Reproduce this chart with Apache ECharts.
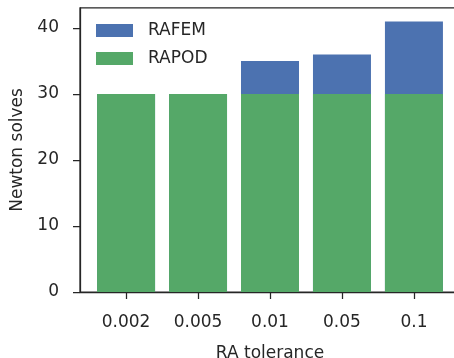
<!DOCTYPE html>
<html><head><meta charset="utf-8">
<script src="https://cdn.jsdelivr.net/npm/echarts@6/dist/echarts.min.js"></script>
<style>html,body{margin:0;padding:0;background:#fff}#c{width:454px;height:358px}</style>
</head><body><div id="c"></div>
<script>
const categories = ['0.002', '0.005', '0.01', '0.05', '0.1'];
const rafem = [30, 30, 35, 36, 41];
const rapod = [30, 30, 30, 30, 30];
const yTicks = [0, 10, 20, 30, 40];
const xPos = categories.map((_, i) => i);

const font = 'DejaVu Sans';
const ink = '#262626';
const chart = echarts.init(document.getElementById('c'), null, {renderer: 'canvas'});
chart.setOption({
  animation: false,
  backgroundColor: '#fff',
  grid: {left: 80, top: 7.9, width: 380, height: 284.1, show: true, borderColor: ink, borderWidth: 1.25,
    backgroundColor: 'transparent', outerBoundsMode: 'none', containLabel: false},
  legend: {
    orient: 'vertical', left: 91, top: 17, itemWidth: 37, itemHeight: 13, itemGap: 11,
    icon: 'rect',
    textStyle: {fontFamily: font, fontSize: 17, color: ink, padding: [0, 0, 0, 10]},
    data: ['RAFEM', 'RAPOD']
  },
  xAxis: {
    type: 'value', min: -0.64, max: 4.64,
    name: 'RA tolerance', nameLocation: 'middle', nameGap: 53,
    nameTextStyle: {fontFamily: font, fontSize: 17, color: ink},
    axisLine: {show: true, lineStyle: {color: ink, width: 1.25}},
    splitLine: {show: false},
    axisTick: {show: true, inside: false, length: 7, lineStyle: {color: ink, width: 1.25}, customValues: xPos},
    axisLabel: {fontFamily: font, fontSize: 17, color: ink, margin: 22, customValues: xPos,
      formatter: v => categories[Math.round(v)] ?? ''}
  },
  yAxis: {
    type: 'value', min: 0, max: 43.05,
    name: 'Newton solves', nameLocation: 'middle', nameGap: 52,
    nameTextStyle: {fontFamily: font, fontSize: 17, color: ink},
    axisLine: {show: true, onZero: false, lineStyle: {color: ink, width: 1.25}},
    splitLine: {show: false},
    axisTick: {show: true, inside: false, length: 7, lineStyle: {color: ink, width: 1.25}, customValues: yTicks},
    axisLabel: {fontFamily: font, fontSize: 17, color: ink, margin: 21, customValues: yTicks}
  },
  series: [
    {name: 'RAFEM', type: 'bar', barWidth: 58, barGap: '-100%', itemStyle: {color: '#4C72B0'},
     data: rafem.map((v, i) => [xPos[i], v])},
    {name: 'RAPOD', type: 'bar', barWidth: 58, barGap: '-100%', itemStyle: {color: '#55A868'},
     data: rapod.map((v, i) => [xPos[i], v])}
  ]
});
</script></body></html>
